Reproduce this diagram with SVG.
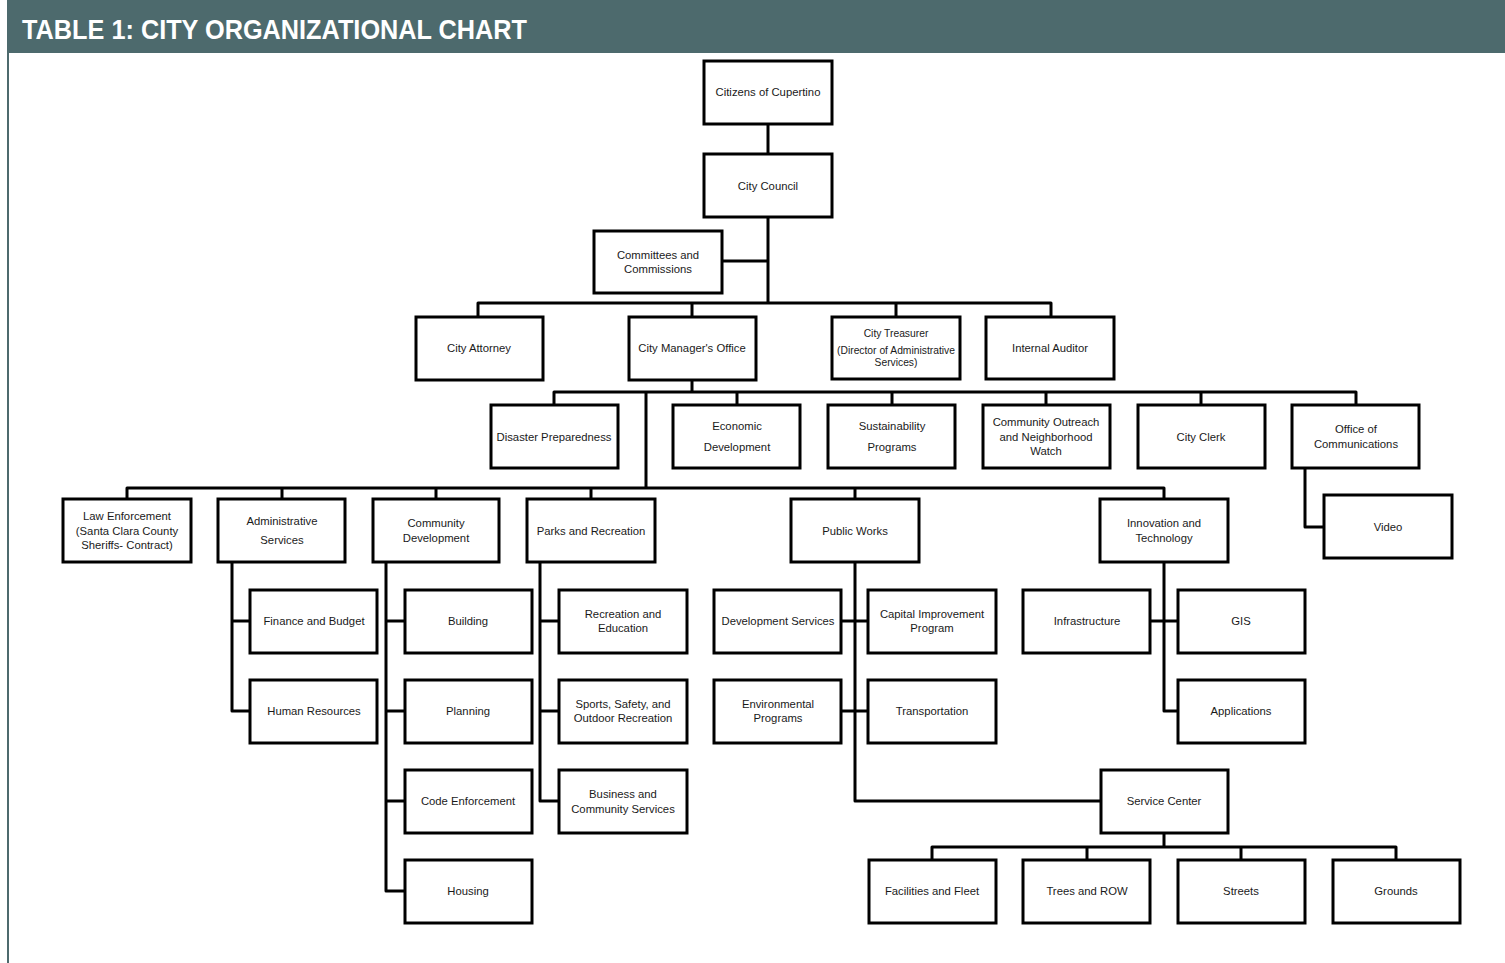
<svg xmlns="http://www.w3.org/2000/svg" width="1505" height="963" viewBox="0 0 1505 963">
<style>
.box{fill:#fff;stroke:#000;stroke-width:3}
.t{font-family:"Liberation Sans",Arial,sans-serif;font-size:11.3px;fill:#1a1a1a;text-anchor:middle;dominant-baseline:central}
.s{font-size:10.3px}
.c{fill:none;stroke:#000;stroke-width:3;stroke-linejoin:round}
.title{font-family:"Liberation Sans",Arial,sans-serif;font-weight:bold;font-size:28px;fill:#fff}
</style>
<rect x="0" y="0" width="1505" height="963" fill="#fff"/>
<rect x="7" y="0" width="1498" height="53" fill="#4d6a6d"/>
<rect x="7" y="0" width="2" height="963" fill="#4d6a6d"/>
<text class="title" x="22" y="39" textLength="505" lengthAdjust="spacingAndGlyphs">TABLE 1: CITY ORGANIZATIONAL CHART</text>

<g id="connectors">
<path class="c" d="M768,125V153"/>
<path class="c" d="M768,218V303M722,261H768"/>
<path class="c" d="M478,316V303H1051V316M692,303V316M896,303V316"/>
<path class="c" d="M692,381V392M554,404V392H1356V404M737,392V404M892,392V404M1046,392V404M1201,392V404"/>
<path class="c" d="M646,392V488M127,498V488H1164V498M282,488V498M436,488V498M591,488V498M855,488V498"/>
<path class="c" d="M1305,469V527H1323"/>
<path class="c" d="M232,563V711H249M232,621H249"/>
<path class="c" d="M386,563V891H404M386,621H404M386,711H404M386,801H404"/>
<path class="c" d="M540,563V801H558M540,621H558M540,711H558"/>
<path class="c" d="M855,563V801H1100M842,621H867M842,711H867"/>
<path class="c" d="M1164,563V711H1177M1151,621H1177"/>
<path class="c" d="M1164,834V847M932,859V847H1396V859M1087,847V859M1241,847V859"/>
</g>

<g id="citizens"><rect class="box" x="704" y="61" width="128" height="63"/><text class="t" x="768" y="92">Citizens of Cupertino</text></g>
<g id="city-council"><rect class="box" x="704" y="154" width="128" height="63"/><text class="t" x="768" y="186">City Council</text></g>
<g id="committees"><rect class="box" x="594" y="231" width="128" height="62"/><text class="t" x="658" y="255">Committees and</text><text class="t" x="658" y="269">Commissions</text></g>

<g id="city-attorney"><rect class="box" x="416" y="317" width="127" height="63"/><text class="t" x="479" y="348">City Attorney</text></g>
<g id="city-manager"><rect class="box" x="629" y="317" width="127" height="63"/><text class="t" x="692" y="348">City Manager's Office</text></g>
<g id="city-treasurer"><rect class="box" x="832" y="317" width="128" height="62"/><text class="t s" x="896" y="333">City Treasurer</text><text class="t s" x="896" y="350">(Director of Administrative</text><text class="t s" x="896" y="362">Services)</text></g>
<g id="internal-auditor"><rect class="box" x="986" y="317" width="128" height="62"/><text class="t" x="1050" y="348">Internal Auditor</text></g>

<g id="disaster"><rect class="box" x="491" y="405" width="127" height="63"/><text class="t" x="554" y="437">Disaster Preparedness</text></g>
<g id="economic"><rect class="box" x="673" y="405" width="127" height="63"/><text class="t" x="737" y="426">Economic</text><text class="t" x="737" y="447">Development</text></g>
<g id="sustainability"><rect class="box" x="828" y="405" width="127" height="63"/><text class="t" x="892" y="426">Sustainability</text><text class="t" x="892" y="447">Programs</text></g>
<g id="outreach"><rect class="box" x="983" y="405" width="127" height="63"/><text class="t" x="1046" y="422">Community Outreach</text><text class="t" x="1046" y="437">and Neighborhood</text><text class="t" x="1046" y="451">Watch</text></g>
<g id="city-clerk"><rect class="box" x="1138" y="405" width="127" height="63"/><text class="t" x="1201" y="437">City Clerk</text></g>
<g id="communications"><rect class="box" x="1292" y="405" width="127" height="63"/><text class="t" x="1356" y="429">Office of</text><text class="t" x="1356" y="444">Communications</text></g>
<g id="video"><rect class="box" x="1324" y="495" width="128" height="63"/><text class="t" x="1388" y="527">Video</text></g>

<g id="law-enforcement"><rect class="box" x="63" y="499" width="128" height="63"/><text class="t" x="127" y="516">Law Enforcement</text><text class="t" x="127" y="531">(Santa Clara County</text><text class="t" x="127" y="545">Sheriffs- Contract)</text></g>
<g id="admin-services"><rect class="box" x="218" y="499" width="127" height="63"/><text class="t" x="282" y="521">Administrative</text><text class="t" x="282" y="540">Services</text></g>
<g id="community-dev"><rect class="box" x="373" y="499" width="126" height="63"/><text class="t" x="436" y="523">Community</text><text class="t" x="436" y="538">Development</text></g>
<g id="parks"><rect class="box" x="527" y="499" width="128" height="63"/><text class="t" x="591" y="531">Parks and Recreation</text></g>
<g id="public-works"><rect class="box" x="791" y="499" width="128" height="63"/><text class="t" x="855" y="531">Public Works</text></g>
<g id="innovation"><rect class="box" x="1100" y="499" width="128" height="63"/><text class="t" x="1164" y="523">Innovation and</text><text class="t" x="1164" y="538">Technology</text></g>

<g id="finance"><rect class="box" x="250" y="590" width="127" height="63"/><text class="t" x="314" y="621">Finance and Budget</text></g>
<g id="hr"><rect class="box" x="250" y="680" width="127" height="63"/><text class="t" x="314" y="711">Human Resources</text></g>

<g id="building"><rect class="box" x="405" y="590" width="127" height="63"/><text class="t" x="468" y="621">Building</text></g>
<g id="planning"><rect class="box" x="405" y="680" width="127" height="63"/><text class="t" x="468" y="711">Planning</text></g>
<g id="code-enforcement"><rect class="box" x="405" y="770" width="127" height="63"/><text class="t" x="468" y="801">Code Enforcement</text></g>
<g id="housing"><rect class="box" x="405" y="860" width="127" height="63"/><text class="t" x="468" y="891">Housing</text></g>

<g id="recreation"><rect class="box" x="559" y="590" width="128" height="63"/><text class="t" x="623" y="614">Recreation and</text><text class="t" x="623" y="628">Education</text></g>
<g id="sports"><rect class="box" x="559" y="680" width="128" height="63"/><text class="t" x="623" y="704">Sports, Safety, and</text><text class="t" x="623" y="718">Outdoor Recreation</text></g>
<g id="business"><rect class="box" x="559" y="770" width="128" height="63"/><text class="t" x="623" y="794">Business and</text><text class="t" x="623" y="809">Community Services</text></g>

<g id="dev-services"><rect class="box" x="714" y="590" width="127" height="63"/><text class="t" x="778" y="621">Development Services</text></g>
<g id="environmental"><rect class="box" x="714" y="680" width="127" height="63"/><text class="t" x="778" y="704">Environmental</text><text class="t" x="778" y="718">Programs</text></g>
<g id="cip"><rect class="box" x="868" y="590" width="128" height="63"/><text class="t" x="932" y="614">Capital Improvement</text><text class="t" x="932" y="628">Program</text></g>
<g id="transportation"><rect class="box" x="868" y="680" width="128" height="63"/><text class="t" x="932" y="711">Transportation</text></g>

<g id="infrastructure"><rect class="box" x="1023" y="590" width="127" height="63"/><text class="t" x="1087" y="621">Infrastructure</text></g>
<g id="gis"><rect class="box" x="1178" y="590" width="127" height="63"/><text class="t" x="1241" y="621">GIS</text></g>
<g id="applications"><rect class="box" x="1178" y="680" width="127" height="63"/><text class="t" x="1241" y="711">Applications</text></g>

<g id="service-center"><rect class="box" x="1101" y="770" width="127" height="63"/><text class="t" x="1164" y="801">Service Center</text></g>
<g id="facilities"><rect class="box" x="869" y="860" width="127" height="63"/><text class="t" x="932" y="891">Facilities and Fleet</text></g>
<g id="trees"><rect class="box" x="1023" y="860" width="127" height="63"/><text class="t" x="1087" y="891">Trees and ROW</text></g>
<g id="streets"><rect class="box" x="1178" y="860" width="127" height="63"/><text class="t" x="1241" y="891">Streets</text></g>
<g id="grounds"><rect class="box" x="1333" y="860" width="127" height="63"/><text class="t" x="1396" y="891">Grounds</text></g>
</svg>
